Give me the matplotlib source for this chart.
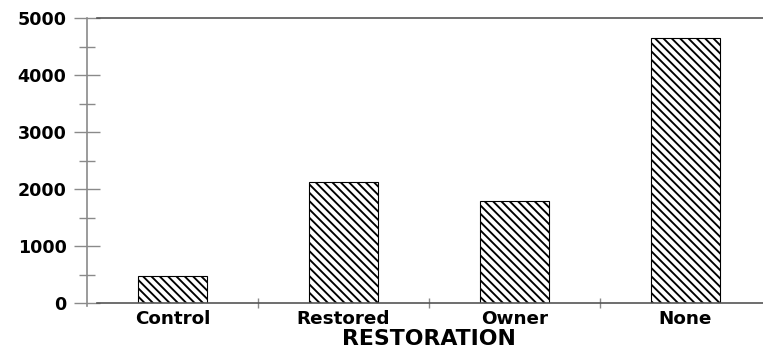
#!/usr/bin/env python3

import matplotlib
matplotlib.use("Agg")
import matplotlib.pyplot as plt
from matplotlib.ticker import MultipleLocator, FixedLocator

# bar values per restoration group
categories = ['Control', 'Restored', 'Owner', 'None']
values = [480, 2130, 1790, 4650]

plt.rcParams['font.family'] = ['DejaVu Sans']
plt.rcParams['font.weight'] = 'bold'
plt.rcParams['hatch.linewidth'] = 1.35

W, H = 763, 349
fig = plt.figure(figsize=(W / 100, H / 100), dpi=100)
# axes run a little past the right edge of the figure
left, right, top, bottom = 87, 771, 18, 303
ax = fig.add_axes([left / W, (H - bottom) / H, (right - left) / W, (bottom - top) / H])

positions = [i + 0.5 for i in range(len(categories))]
ax.bar(positions, values, width=0.405, color='white', edgecolor='black',
       hatch='\\\\\\\\', linewidth=0.8, zorder=2)

ax.set_xlim(0, 4)
ax.set_ylim(0, 5000)

# y axis: grey line with crossing ticks
ax.spines['left'].set_color('#8a8a8a')
ax.spines['left'].set_linewidth(1.2)
ax.spines['left'].set_bounds(-60, 5000)
for side in ('top', 'bottom'):
    ax.spines[side].set_color('#555555')
    ax.spines[side].set_linewidth(1.2)
    ax.spines[side].set_bounds(10 / 171, 4)
ax.spines['right'].set_visible(False)

ax.yaxis.set_major_locator(MultipleLocator(1000))
ax.yaxis.set_minor_locator(MultipleLocator(500))
ax.tick_params(axis='y', which='major', direction='inout', length=19, width=1,
               color='#8a8a8a', pad=5.3, labelsize=12.6)
ax.tick_params(axis='y', which='minor', direction='inout', length=12, width=1,
               color='#8a8a8a')

ax.set_xticks(positions)
ax.set_xticklabels(categories)
ax.xaxis.set_minor_locator(FixedLocator([1, 2, 3]))
ax.tick_params(axis='x', which='major', length=0, pad=5, labelsize=13.2)
ax.tick_params(axis='x', which='minor', direction='inout', length=7, width=1,
               color='#8a8a8a')

ax.set_xlabel('RESTORATION', fontsize=15.8, fontweight='bold', labelpad=1)

fig.savefig('out.png', dpi=100)
